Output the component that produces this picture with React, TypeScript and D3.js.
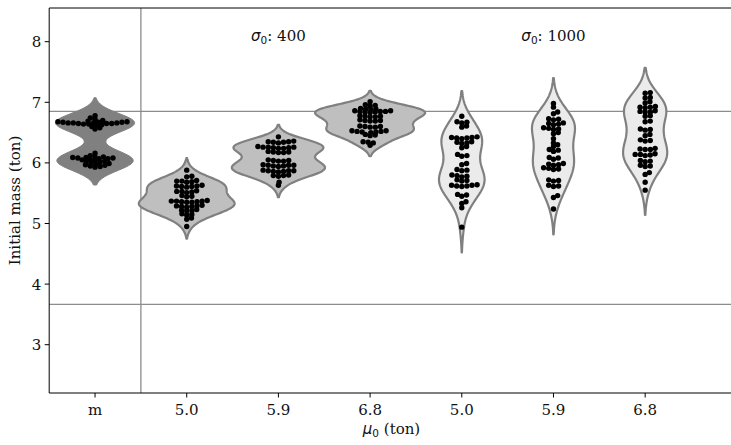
import React from "react";
import * as d3 from "d3";

const categories = ["m", "5.0", "5.9", "6.8", "5.0", "5.9", "6.8"];
const groupKinds = ["prior", "s400", "s400", "s400", "s1000", "s1000", "s1000"];
const yTicks = [3, 4, 5, 6, 7, 8];
const refLines = [6.85, 3.665];
const annotations = [
  { at: 2, sigma: "400" },
  { at: 5, sigma: "1000" },
];

const valsM = [
  6.78, 6.74, 6.72, 6.7, 6.69, 6.68, 6.68, 6.67, 6.67, 6.67, 6.66, 6.66, 6.66, 6.66, 6.65, 6.65, 6.65, 6.64,
  6.64, 6.63, 6.62, 6.6, 6.58, 6.56,
  6.16, 6.12, 6.1, 6.1, 6.09, 6.09, 6.08, 6.08, 6.07, 6.07, 6.06, 6.05, 6.04, 6.03, 6.02, 6.01, 6.0, 5.99,
  5.98, 5.97, 5.96, 5.95, 5.94, 5.93,
];
const vals400a = [
  5.88, 5.78, 5.77, 5.71, 5.7, 5.7, 5.69, 5.68, 5.63, 5.62, 5.62, 5.61, 5.61, 5.6, 5.54, 5.53, 5.53, 5.52,
  5.51, 5.46, 5.45, 5.44, 5.38, 5.37, 5.37, 5.37, 5.36, 5.36, 5.35, 5.35, 5.3, 5.29, 5.29, 5.28, 5.28, 5.27,
  5.23, 5.22, 5.21, 5.21, 5.16, 5.15, 5.14, 5.09, 5.07, 4.95,
];
const vals400b = [
  6.43, 6.36, 6.35, 6.35, 6.34, 6.34, 6.33, 6.27, 6.26, 6.26, 6.26, 6.25, 6.25, 6.24, 6.24, 6.19, 6.18, 6.18,
  6.17, 6.17, 6.05, 6.04, 6.04, 6.03, 6.03, 5.97, 5.96, 5.96, 5.96, 5.95, 5.95, 5.94, 5.88, 5.87, 5.87, 5.87,
  5.86, 5.86, 5.85, 5.8, 5.79, 5.79, 5.78, 5.68, 5.63,
];
const vals400c = [
  7.01, 6.96, 6.95, 6.94, 6.9, 6.89, 6.89, 6.88, 6.86, 6.86, 6.85, 6.85, 6.85, 6.84, 6.84, 6.83, 6.78, 6.77,
  6.77, 6.76, 6.76, 6.71, 6.7, 6.7, 6.69, 6.69, 6.61, 6.6, 6.6, 6.59, 6.59, 6.53, 6.53, 6.52, 6.52, 6.51,
  6.51, 6.5, 6.47, 6.46, 6.45, 6.35, 6.34, 6.33, 6.29,
];
const vals1000a = [
  6.77, 6.68, 6.67, 6.66, 6.61, 6.59, 6.43, 6.42, 6.42, 6.41, 6.41, 6.4, 6.35, 6.34, 6.33, 6.32, 6.27, 6.25,
  6.14, 6.12, 6.11, 5.99, 5.97, 5.89, 5.88, 5.87, 5.8, 5.79, 5.78, 5.77, 5.72, 5.71, 5.7, 5.64, 5.63, 5.63,
  5.62, 5.62, 5.61, 5.48, 5.47, 5.45, 5.36, 5.33, 5.26, 4.94,
];
const vals1000b = [
  6.98, 6.92, 6.84, 6.81, 6.73, 6.72, 6.71, 6.66, 6.65, 6.64, 6.63, 6.58, 6.57, 6.56, 6.55, 6.5, 6.48, 6.4,
  6.33, 6.3, 6.27, 6.22, 6.21, 6.19, 6.09, 6.08, 6.06, 5.99, 5.98, 5.97, 5.96, 5.92, 5.91, 5.9, 5.89, 5.72,
  5.71, 5.7, 5.63, 5.62, 5.61, 5.46, 5.43, 5.24,
];
const vals1000c = [
  7.16, 7.15, 7.08, 7.07, 7.01, 6.99, 6.93, 6.92, 6.92, 6.91, 6.86, 6.85, 6.84, 6.84, 6.78, 6.77, 6.69, 6.68,
  6.56, 6.55, 6.54, 6.47, 6.45, 6.38, 6.37, 6.36, 6.24, 6.23, 6.22, 6.22, 6.15, 6.14, 6.14, 6.13, 6.12, 6.04,
  6.03, 6.02, 5.96, 5.95, 5.94, 5.84, 5.81, 5.68, 5.55,
];
const groups = [valsM, vals400a, vals400b, vals400c, vals1000a, vals1000b, vals1000c];

const W = 731;
const H = 445;
const LEFT = 49.2;
const TOP = 8;
const BOTTOM = 393;
const FONT = "'DejaVu Serif', serif";
const FS = 15;
const FILL: Record<string, string> = { prior: "#808080", s400: "#bfbfbf", s1000: "#ebebeb" };
const EDGE = "#808080";
const MAX_HALF = 55;
const R = 2.7;
// swarm layout was computed before the y-range was widened: vertical gaps count larger
const SWARM_STRETCH = 1.7;

const x = d3.scaleLinear().domain([-0.5, 6.5]).range([LEFT, 691]);
const y = d3.scaleLinear().domain([2.203, 8.556]).range([BOTTOM, TOP]);

function kde(vals: number[]) {
  const n = vals.length;
  const mean = d3.mean(vals)!;
  const sd = Math.sqrt(d3.sum(vals, (v) => (v - mean) ** 2) / (n - 1));
  const bw = sd * Math.pow(n, -1 / 5);
  const lo = d3.min(vals)! - 2 * bw;
  const hi = d3.max(vals)! + 2 * bw;
  const grid = d3.range(100).map((i) => lo + ((hi - lo) * i) / 99);
  const dens = grid.map(
    (g) => d3.sum(vals, (v) => Math.exp(-0.5 * ((g - v) / bw) ** 2)) / (n * bw * Math.sqrt(2 * Math.PI))
  );
  return grid.map((g, i) => ({ v: g, d: dens[i] }));
}

function swarm(vals: number[], d: number) {
  const pts = vals
    .slice()
    .sort((a, b) => a - b)
    .map((v) => ({ v, py: y(v), sy: y(v) * SWARM_STRETCH, dx: 0 }));
  const placed: typeof pts = [];
  for (const p of pts) {
    const nb = placed.filter((q) => Math.abs(q.sy - p.sy) < d);
    const cands = [0];
    for (const q of nb) {
      const off = Math.sqrt(d * d - (q.sy - p.sy) ** 2);
      cands.push(q.dx + off, q.dx - off);
    }
    cands.sort((a, b) => Math.abs(a) - Math.abs(b));
    for (const c of cands) {
      if (nb.every((q) => (q.dx - c) ** 2 + (q.sy - p.sy) ** 2 >= d * d - 1e-6)) {
        p.dx = c;
        break;
      }
    }
    placed.push(p);
  }
  return pts;
}

export default function App() {
  const kdes = groups.map(kde);
  const globalMax = d3.max(kdes, (k) => d3.max(k, (p) => p.d))!;
  const wScale = d3.scaleLinear().domain([0, globalMax]).range([0, MAX_HALF]);

  return (
    <svg width={W} height={H} style={{ position: "absolute", left: 0, top: 0, background: "#fff" }}>
      {refLines.map((v) => (
        <line key={v} x1={LEFT} x2={W} y1={y(v)} y2={y(v)} stroke="#8c8c8c" strokeWidth={1.3} />
      ))}
      <line x1={x(0.5)} x2={x(0.5)} y1={TOP} y2={BOTTOM} stroke="#8c8c8c" strokeWidth={1.3} />

      {kdes.map((k, i) => {
        const cx = x(i);
        const area = d3
          .area<{ v: number; d: number }>()
          .y((p) => y(p.v))
          .x0((p) => cx - wScale(p.d))
          .x1((p) => cx + wScale(p.d))
          .curve(d3.curveLinear);
        return (
          <path
            key={i}
            d={area(k)!}
            fill={FILL[groupKinds[i]]}
            stroke={EDGE}
            strokeWidth={groupKinds[i] === "prior" ? 1 : 2.2}
            strokeLinejoin="round"
          />
        );
      })}

      {groups.map((g, i) =>
        swarm(g, 5.2).map((p, j) => (
          <circle key={i + "-" + j} cx={x(i) + p.dx} cy={p.py} r={R} fill="#000" />
        ))
      )}

      <line x1={LEFT} x2={LEFT} y1={TOP} y2={BOTTOM} stroke="#000" strokeWidth={1} />
      <line x1={LEFT} x2={W} y1={TOP} y2={TOP} stroke="#000" strokeWidth={1} />
      <line x1={LEFT} x2={W} y1={BOTTOM} y2={BOTTOM} stroke="#000" strokeWidth={1} />

      {yTicks.map((t) => (
        <g key={t} transform={`translate(0,${y(t)})`}>
          <line x1={LEFT - 4.5} x2={LEFT} stroke="#000" strokeWidth={1} />
          <text x={LEFT - 8} dy="0.36em" textAnchor="end" fontFamily={FONT} fontSize={FS} fill="#111">
            {t}
          </text>
        </g>
      ))}

      {categories.map((c, i) => (
        <g key={i} transform={`translate(${x(i)},${BOTTOM})`}>
          <line y1={0} y2={4.5} stroke="#000" strokeWidth={1} />
          <text y={22} textAnchor="middle" fontFamily={FONT} fontSize={FS} fill="#111">
            {c}
          </text>
        </g>
      ))}

      <text
        transform={`translate(20,${(TOP + BOTTOM) / 2}) rotate(-90)`}
        textAnchor="middle"
        fontFamily={FONT}
        fontSize={FS}
        fill="#111"
      >
        Initial mass (ton)
      </text>
      <text x={391.5} y={434} textAnchor="middle" fontFamily={FONT} fontSize={FS} fill="#111">
        <tspan fontFamily="'DejaVu Sans', sans-serif" fontStyle="italic">
          μ
        </tspan>
        <tspan fontFamily="'DejaVu Sans', sans-serif" fontSize={FS * 0.7} dy={3}>
          0
        </tspan>
        <tspan dy={-3}> (ton)</tspan>
      </text>

      {annotations.map((a) => (
        <text key={a.sigma} x={x(a.at)} y={41} textAnchor="middle" fontFamily={FONT} fontSize={FS} fill="#111">
          <tspan fontFamily="'DejaVu Sans', sans-serif" fontStyle="italic">
            σ
          </tspan>
          <tspan fontFamily="'DejaVu Sans', sans-serif" fontSize={FS * 0.7} dy={3}>
            0
          </tspan>
          <tspan dy={-3}>: {a.sigma}</tspan>
        </text>
      ))}
    </svg>
  );
}
